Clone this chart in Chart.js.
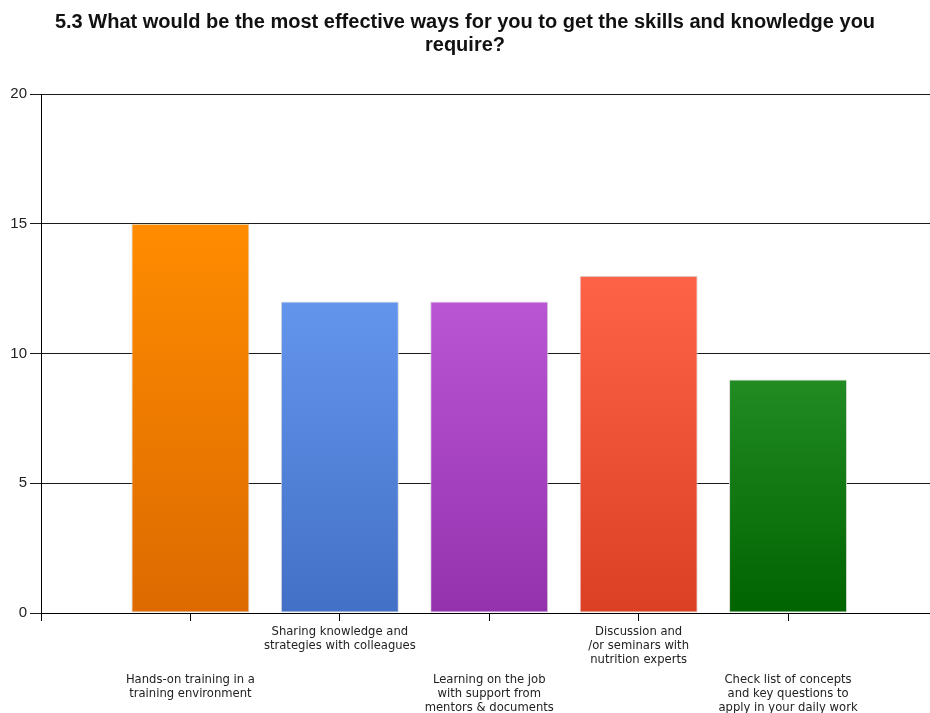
<!DOCTYPE html>
<html>
<head>
<meta charset="utf-8">
<script src="https://cdn.jsdelivr.net/npm/chart.js@4.4.1/dist/chart.umd.min.js"></script>
<style>
  html, body { margin: 0; padding: 0; background: #fff; }
  #wrap { width: 930px; height: 713px; }
</style>
</head>
<body>
<div id="wrap"><canvas id="skillsChart"></canvas></div>
<script>
// question 5.3 - answer counts
const categories = [
  ["Hands-on training in a", "training environment"],
  ["Sharing knowledge and", "strategies with colleagues"],
  ["Learning on the job", "with support from", "mentors & documents"],
  ["Discussion and", "/or seminars with", "nutrition experts"],
  ["Check list of concepts", "and key questions to", "apply in your daily work"]
];
const counts = [15, 12, 12, 13, 9];
const topColors = ["#ff8c00", "#6495ed", "#ba55d3", "#ff6347", "#228b22"];
const bottomColors = ["#dc6a00", "#4270c6", "#9432ae", "#dc4024", "#006400"];
const yTicks = [0, 5, 10, 15, 20];

const labelFont = "11.6px 'DejaVu Sans', sans-serif";

// bars sit at x = 1..5 on a linear axis so the tick spacing works out
const points = counts.map((v, i) => ({ x: i + 1, y: v }));

// staggered two-row category labels under the axis
const staggeredLabels = {
  id: "staggeredLabels",
  afterDraw(chart) {
    const ctx = chart.ctx;
    const xs = chart.scales.x;
    ctx.save();
    ctx.font = labelFont;
    ctx.fillStyle = "#222";
    ctx.textAlign = "center";
    ctx.textBaseline = "alphabetic";
    categories.forEach((lines, i) => {
      const px = xs.getPixelForValue(i + 1);
      const firstBase = i % 2 === 1 ? 635 : 683;
      lines.forEach((line, j) => ctx.fillText(line, px, firstBase + j * 14));
    });
    ctx.restore();
  }
};

function barGradient(ctx) {
  const chart = ctx.chart;
  const i = ctx.dataIndex;
  if (!chart.chartArea || i === undefined) return topColors[i || 0];
  const y = chart.scales.y;
  const top = y.getPixelForValue(counts[i]);
  const bottom = y.getPixelForValue(0);
  const g = chart.ctx.createLinearGradient(0, top, 0, bottom);
  g.addColorStop(0, topColors[i]);
  g.addColorStop(1, bottomColors[i]);
  return g;
}

new Chart(document.getElementById("skillsChart"), {
  type: "bar",
  data: {
    datasets: [{
      data: points,
      backgroundColor: barGradient,
      borderColor: "#d9d9d9",
      borderWidth: 1,
      borderSkipped: false,
      categoryPercentage: 0.79,
      barPercentage: 1
    }]
  },
  options: {
    responsive: true,
    maintainAspectRatio: false,
    animation: false,
    layout: { padding: { left: 0, right: 0, top: 0, bottom: 92 } },
    plugins: {
      legend: { display: false },
      tooltip: { enabled: false },
      title: {
        display: true,
        text: ["5.3 What would be the most effective ways for you to get the skills and knowledge you", "require?"],
        color: "#111",
        font: { family: "'Liberation Sans', Arial, sans-serif", size: 20, weight: "bold", lineHeight: 1.15 },
        padding: { top: 10.5, bottom: 37.5 }
      }
    },
    scales: {
      x: {
        type: "linear",
        min: 0,
        max: 5.95,
        offset: false,
        grid: { display: true, offset: false, drawOnChartArea: false, drawTicks: true, tickLength: 8, color: "#000" },
        border: { display: true, color: "#000", width: 1 },
        ticks: { display: false, stepSize: 1, includeBounds: false }
      },
      y: {
        min: 0,
        max: 20,
        afterFit: (axis) => { axis.width = 41; },
        afterBuildTicks: (axis) => { axis.ticks = yTicks.map((v) => ({ value: v })); },
        grid: { color: "#1a1a1a", lineWidth: 1, tickLength: 11 },
        border: { display: true, color: "#000", width: 1 },
        ticks: {
          color: "#222",
          padding: 3,
          font: { family: "'Liberation Sans', Arial, sans-serif", size: 15 }
        }
      }
    }
  },
  plugins: [staggeredLabels]
});
</script>
</body>
</html>
